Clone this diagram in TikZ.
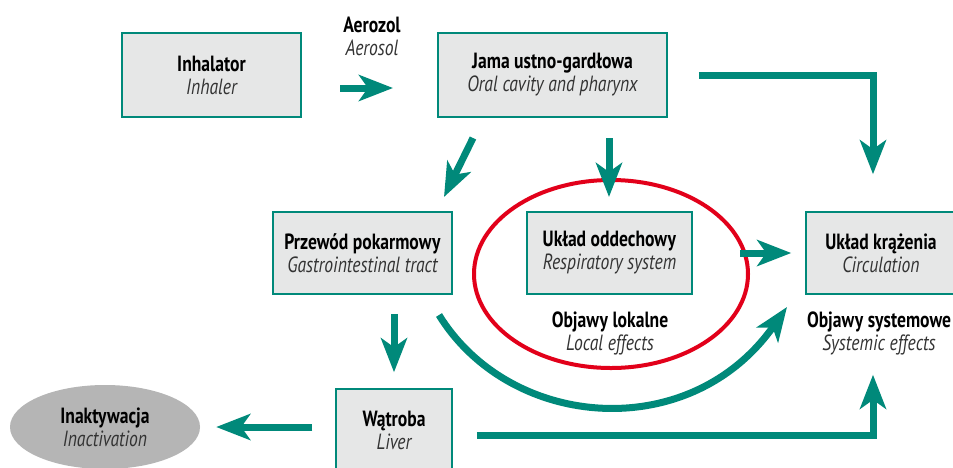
\documentclass[tikz,border=0pt]{standalone}
\usepackage{fontspec}
\setmainfont[FakeStretch=0.8]{PT Sans}
\usepackage{tikz}
\usetikzlibrary{arrows.meta,shapes.geometric}
\definecolor{m_teal}{HTML}{00897A}
\definecolor{m_red}{HTML}{E2001A}
\definecolor{m_box}{HTML}{E6E7E7}
\definecolor{m_grey}{HTML}{B5B5B5}
\newcommand{\pl}[2]{\textbf{#1}\\\textcolor{black!80}{\itshape #2}}

\begin{document}
\begin{tikzpicture}[
        x=1pt, y=-1pt,
        font=\fontsize{22}{23}\selectfont,
        organ/.style={draw=m_teal, fill=m_box, line width=1.5pt, align=center, inner sep=0pt},
        caption/.style={align=center, inner sep=0pt},
        flow/.style={draw=m_teal, line width=7pt, -{Stealth[length=34pt, width=26pt, inset=9pt]}}
    ]
        \clip (0,0) rectangle (953,467);
        \fill[white] (0,0) rectangle (953,467);

        % boxes
        \node[organ, minimum width=179pt, minimum height=84pt] (inh) at (211.5,75) {\pl{Inhalator}{Inhaler}};
        \node[organ, minimum width=229pt, minimum height=84pt] (jama) at (552.5,75) {\pl{Jama ustno-gardłowa}{Oral cavity and pharynx}};
        \node[organ, minimum width=179pt, minimum height=82pt] (gi) at (362.5,253) {\pl{Przewód pokarmowy}{Gastrointestinal tract}};
        \node[organ, minimum width=165pt, minimum height=82pt] (resp) at (609.5,253) {\pl{Układ oddechowy}{Respiratory system}};
        \node[organ, minimum width=150pt, minimum height=82pt] (circ) at (881,253) {\pl{Układ krążenia}{Circulation}};
        \node[organ, minimum width=116pt, minimum height=82pt] (liver) at (394,430) {\pl{Wątroba}{Liver}};
        \node[ellipse, fill=m_grey, minimum width=190pt, minimum height=84pt, align=center, inner sep=0pt] (inact) at (105,427) {\pl{Inaktywacja}{Inactivation}};

        % local effects
        \node[ellipse, draw=m_red, line width=4pt, minimum width=274pt, minimum height=188pt] (local) at (611,274) {};
        \node[caption] (lok) at (610,333) {\pl{Objawy lokalne}{Local effects}};
        \node[caption] (sys) at (879,333) {\pl{Objawy systemowe}{Systemic effects}};
        \node[caption] (aer) at (372,36) {\pl{Aerozol}{Aerosol}};

        % arrows
        \coordinate (aerS) at (340,88);
        \coordinate (aerE) at (393,88);
        \draw[flow] (aerS) -- (aerE);
        \draw[flow] (473,138) coordinate (giS) -- (444,197) coordinate (giE);
        \draw[flow] (609,138) coordinate (rsS) -- (609,197) coordinate (rsE);
        \draw[flow, shorten >=37pt] ([xshift=31pt]jama.east) -| ([xshift=-8pt]circ.north);
        \draw[flow] ([xshift=47pt]resp.east) -- ([xshift=-14pt]circ.west);
        \draw[flow] ([yshift=-19pt]gi.south -| liver) -- ([yshift=16pt]liver.north);
        \draw[flow] (439,315) coordinate (cvS) .. controls (510,430) and (690,445) .. (787,307) coordinate (cvE);
        \draw[flow, shorten >=16pt] ([xshift=-23pt, yshift=3pt]liver.west) -- (inact.east);
        \draw[flow, shorten >=80pt] ([xshift=24pt, yshift=-5pt]liver.east) -| ([xshift=-8pt]circ.south);
    \end{tikzpicture}
\end{document}
